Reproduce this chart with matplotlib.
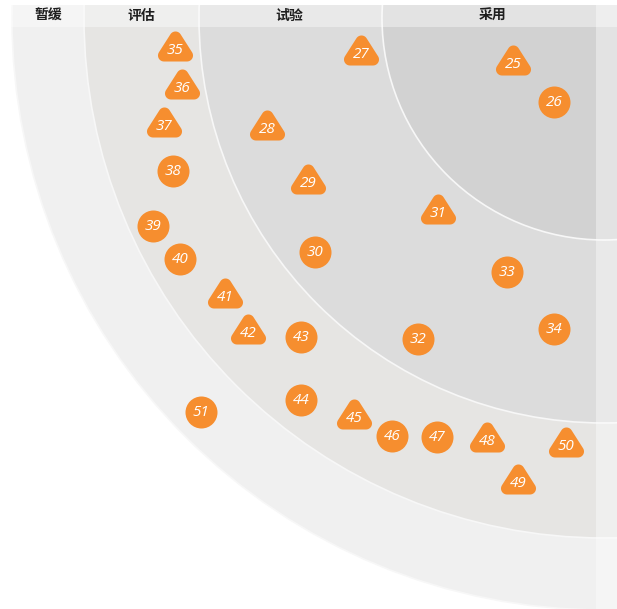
import numpy as np
import matplotlib.pyplot as plt
from matplotlib.patches import Circle, Rectangle
from matplotlib.path import Path

# rings, outer to inner
ring_names = ['暂缓', '评估', '试验', '采用']
ring_label_x = [48, 141, 289, 493]

blip_ids = list(range(25, 52))
blip_shape = ['t', 'c', 't', 't', 't', 'c', 't', 'c', 'c', 'c',
              't', 't', 't', 'c', 'c', 'c', 't', 't', 'c', 'c',
              't', 'c', 'c', 't', 't', 't', 'c']
blip_x = [513, 554, 361, 267, 308, 315, 438, 418, 507, 554,
          175, 182, 164, 173, 153, 180, 225, 248, 301, 301,
          354, 392, 437, 487, 518, 566, 201]
blip_y = [64, 102, 54, 129, 183, 252, 213, 339, 272, 329,
          50, 88, 126, 171, 226, 259, 297, 333, 337, 400,
          418, 436, 437, 441, 483, 446, 412]

cx, cy = 604, 18
radii = [592, 520, 405, 222]
ring_colors = ['#f0f0f0', '#e6e5e3', '#dcdcdc', '#d2d2d2']
orange = '#f68e2f'


def rounded_triangle(r=6.0, n=12):
    corners = np.array([[0, 13], [-11.5, -5], [11.5, -5]])
    pts = []
    for i in range(3):
        p = corners[i]
        a = corners[i - 1]
        b = corners[(i + 1) % 3]
        # outward normals of the two edges meeting at p
        e1 = p - a
        e2 = b - p
        n1 = np.array([e1[1], -e1[0]]) / np.hypot(*e1)
        n2 = np.array([e2[1], -e2[0]]) / np.hypot(*e2)
        t1 = np.arctan2(n1[1], n1[0])
        t2 = np.arctan2(n2[1], n2[0])
        if t2 < t1:
            t2 += 2 * np.pi
        for t in np.linspace(t1, t2, n):
            pts.append(p + r * np.array([np.cos(t), np.sin(t)]))
    pts.append(pts[0])
    return Path(np.array(pts), closed=True)


fig = plt.figure(figsize=(6.17, 6.09), dpi=100)
ax = fig.add_axes([0, 0, 1, 1])
ax.set_xlim(0, 617)
ax.set_ylim(609, 0)
ax.axis('off')

clip = Rectangle((0, 5), 617, 604, transform=ax.transData)
for r, col in zip(radii, ring_colors):
    c = Circle((cx, cy), r, facecolor=col, edgecolor='#f7f7f7', lw=1.2, zorder=1)
    ax.add_patch(c)
    c.set_clip_path(clip)

# header band and right strip (translucent white)
ax.add_patch(Rectangle((0, 5), 617, 22, facecolor='white', alpha=0.4, lw=0, zorder=2))
ax.add_patch(Rectangle((596, 5), 21, 604, facecolor='white', alpha=0.4, lw=0, zorder=2))

for name, x in zip(ring_names, ring_label_x):
    ax.text(x, 16, name, ha='center', va='center', fontsize=10, fontweight='bold',
            family=['Noto Sans CJK SC', 'DejaVu Sans'], color='#1e1e1e', zorder=3)

tri = rounded_triangle()
shapes = np.array(blip_shape)
bx = np.array(blip_x)
by = np.array(blip_y)
ax.scatter(bx[shapes == 't'], by[shapes == 't'], marker=tri, s=(38 * 0.72) ** 2,
           c=orange, linewidths=0, zorder=4)
ax.scatter(bx[shapes == 'c'], by[shapes == 'c'], marker='o', s=(32 * 0.72) ** 2,
           c=orange, linewidths=0, zorder=4)

for i, x, y in zip(blip_ids, blip_x, blip_y):
    ax.text(x, y + 0.5, str(i), ha='center', va='center', fontsize=11, style='italic',
            family=['Open Sans', 'DejaVu Sans'], color='white', zorder=5)

fig.savefig('out.png', dpi=100)
